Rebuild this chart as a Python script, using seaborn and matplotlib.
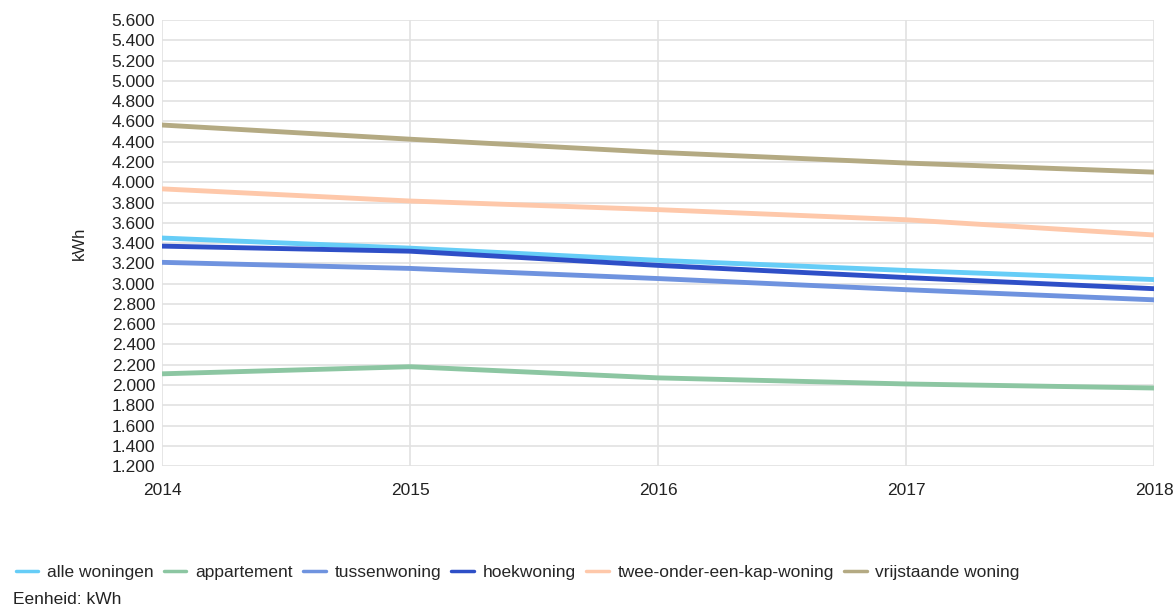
import numpy as np
import matplotlib
matplotlib.use("Agg")
import matplotlib.pyplot as plt
import matplotlib.ticker as mticker
import pandas as pd
import seaborn as sns

years = [2014, 2015, 2016, 2017, 2018]
alle_woningen = [3450, 3350, 3230, 3130, 3040]
appartement = [2110, 2180, 2070, 2010, 1970]
tussenwoning = [3210, 3150, 3050, 2940, 2840]
hoekwoning = [3370, 3320, 3180, 3060, 2950]
twee_onder_een_kap = [3935, 3815, 3730, 3630, 3480]
vrijstaande = [4565, 4425, 4295, 4190, 4100]

series = ["alle woningen", "appartement", "tussenwoning", "hoekwoning",
          "twee-onder-een-kap-woning", "vrijstaande woning"]
colors = ["#66cdf7", "#8cc6a2", "#6f93df", "#2e4fc7", "#fec8aa", "#b4aa83"]

df = pd.DataFrame({"jaar": years * 6,
                   "kwh": alle_woningen + appartement + tussenwoning + hoekwoning
                          + twee_onder_een_kap + vrijstaande,
                   "type": np.repeat(series, len(years))})

sns.set_theme(style="white")
plt.rcParams["font.family"] = ["Liberation Sans", "DejaVu Sans"]

fig = plt.figure(figsize=(11.74, 6.1), dpi=100)
ax = fig.add_axes([0.138, 0.236, 0.845, 0.731])
sns.lineplot(data=df, x="jaar", y="kwh", hue="type", hue_order=series,
             palette=colors, linewidth=3.5, ax=ax, legend=False)

ax.set_xlim(2014, 2018)
ax.set_ylim(1200, 5600)
ax.set_xticks(years)
ax.set_yticks(np.arange(1200, 5601, 200))
ax.yaxis.set_major_formatter(mticker.FuncFormatter(lambda v, p: f"{int(v):,}".replace(",", ".")))
ax.grid(True, color="#e2e2e2", linewidth=1.2)
ax.set_axisbelow(True)
for s in ax.spines.values():
    s.set_visible(False)
ax.tick_params(axis="both", labelsize=12.5, colors="#222222", length=0)
ax.tick_params(axis="x", pad=12)
ax.tick_params(axis="y", pad=5)
ax.set_xlabel("")
ax.set_ylabel("kWh", fontsize=12, color="#222222", labelpad=18)

handles = [plt.Line2D([], [], color=c, linewidth=2.5) for c in colors]
fig.legend(handles, series, loc="center left", bbox_to_anchor=(0.0, 0.062), ncol=6,
           frameon=False, fontsize=12.5, handlelength=1.3, handletextpad=0.5,
           columnspacing=0.6)
fig.text(0.011, 0.01, "Eenheid: kWh", fontsize=12.5, color="#222222")

fig.savefig("out.png", dpi=100)
